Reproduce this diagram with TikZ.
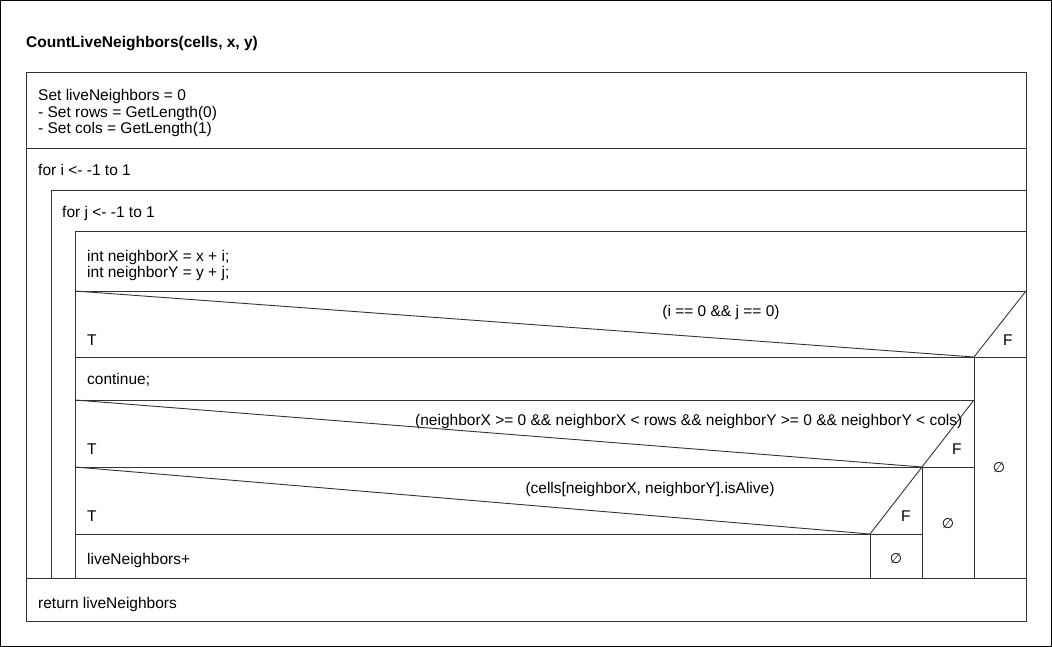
\documentclass[tikz,border=0pt]{standalone}
\usepackage{fontspec}
\setmainfont{Liberation Sans}
\newfontfamily\symfont{DejaVu Sans}
\tikzset{
  nsline/.style={line width=0.9pt, draw=black!80},
  lbl/.style={anchor=base west, inner sep=0pt, font=\fontsize{15.5}{17}\selectfont},
  cond/.style={anchor=base, inner sep=0pt, font=\fontsize{15.5}{17}\selectfont},
  empty/.style={inner sep=0pt, font=\symfont\fontsize{14}{16}\selectfont},
}
\begin{document}
\begin{tikzpicture}[x=1pt,y=-1pt]
  \useasboundingbox (0,0) rectangle (1052,647);
  \draw[line width=1pt] (0.5,0.5) rectangle (1051.5,646.5);
  \node[lbl,font=\fontsize{15.5}{17}\selectfont\bfseries] (title) at (26,48) {CountLiveNeighbors(cells, x, y)};
  % main frame
  \draw[nsline] (26,72) rectangle (1026,621);
  \draw[nsline] (26,148) -- (1026,148);
  \draw[nsline] (26,578) -- (1026,578);
  \node[lbl] (init1) at (38,101) {Set liveNeighbors = 0};
  \node[lbl] (init2) at (38,118) {- Set rows = GetLength(0)};
  \node[lbl] (init3) at (38,134) {- Set cols = GetLength(1)};
  % loops
  \draw[nsline] (1026,190) -- (51,190) -- (51,578);
  \draw[nsline] (1026,231) -- (75,231) -- (75,578);
  \node[lbl] (fori) at (38,176) {for i <- -1 to 1};
  \node[lbl] (forj) at (62,218) {for j <- -1 to 1};
  \node[lbl] (nbx) at (87,261) {int neighborX = x + i;};
  \node[lbl] (nby) at (87,277) {int neighborY = y + j;};
  % first if
  \draw[nsline] (75,291) -- (1026,291);
  \draw[nsline] (75,291) -- (974,357) -- (1026,291);
  \draw[nsline] (75,357) -- (1026,357);
  \draw[nsline] (974,357) -- (974,578);
  \node[cond] (c1) at (721,316) {(i == 0 \&\& j == 0)};
  \node[lbl] (t1) at (87,345) {T};
  \node[lbl] (f1) at (1003,345) {F};
  \node[lbl] (cont) at (87,384) {continue;};
  \node[empty] (e1) at (999,468) {∅};
  % second if
  \draw[nsline] (75,400) -- (974,400);
  \draw[nsline] (75,400) -- (922,467) -- (974,400);
  \draw[nsline] (75,467) -- (974,467);
  \draw[nsline] (922,467) -- (922,578);
  \node[lbl] (c2) at (415,425) {(neighborX >= 0 \&\& neighborX < rows \&\& neighborY >= 0 \&\& neighborY < cols)};
  \node[lbl] (t2) at (87,454) {T};
  \node[lbl] (f2) at (952,454) {F};
  \node[empty] (e2) at (948,524) {∅};
  % third if
  \draw[nsline] (75,534) -- (922,534);
  \draw[nsline] (75,467) -- (870,534) -- (922,467);
  \draw[nsline] (870,534) -- (870,578);
  \node[cond] (c3) at (650,493) {(cells[neighborX, neighborY].isAlive)};
  \node[lbl] (t3) at (87,521) {T};
  \node[lbl] (f3) at (901,521) {F};
  \node[lbl] (inc) at (87,564) {liveNeighbors+};
  \node[empty] (e3) at (896,559) {∅};
  \node[lbl] (ret) at (38,608) {return liveNeighbors};
\end{tikzpicture}
\end{document}
